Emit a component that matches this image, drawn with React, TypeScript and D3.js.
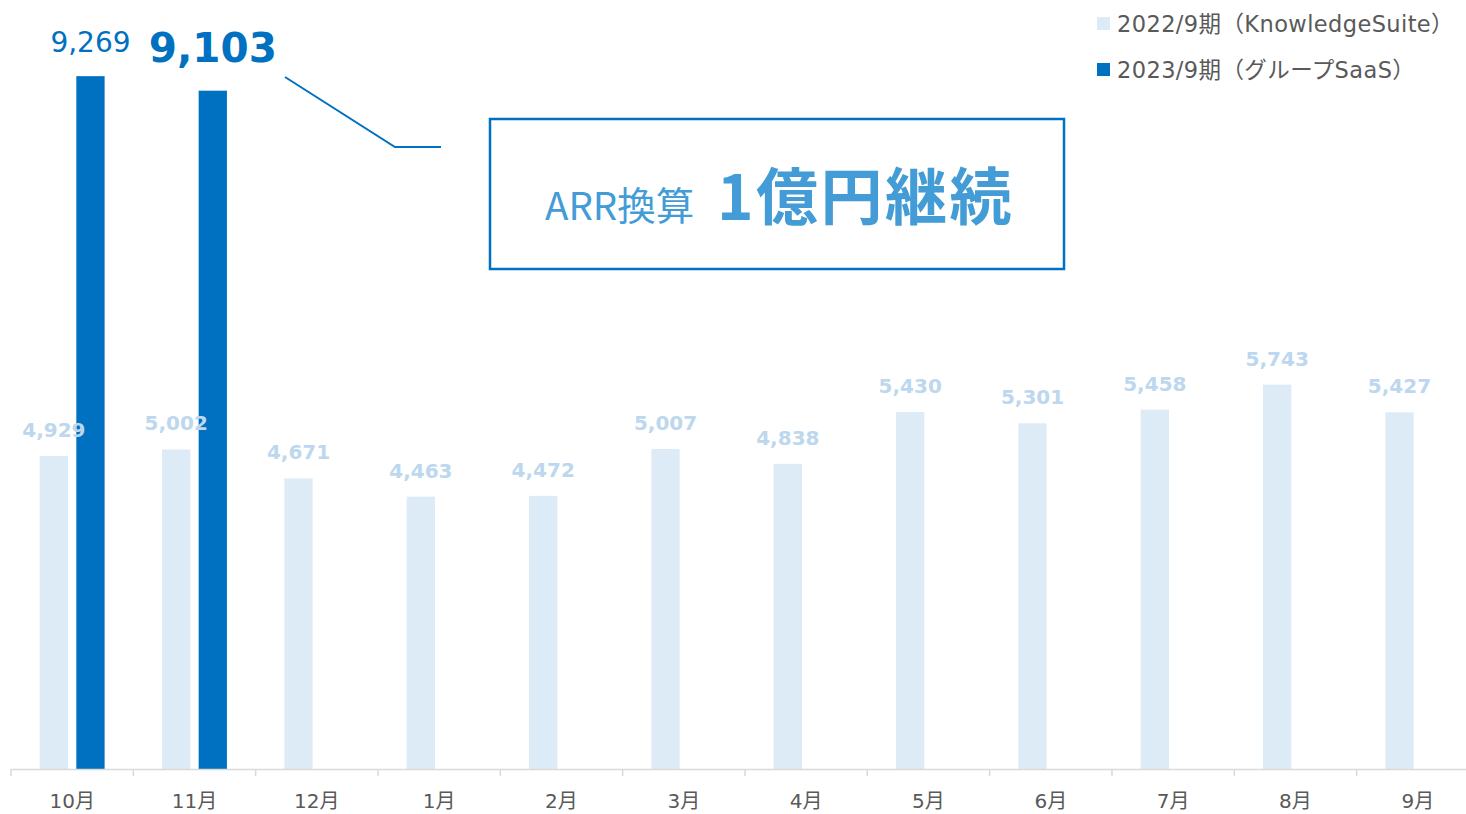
import React from 'react'
import * as d3 from 'd3'

const months = ['10月', '11月', '12月', '1月', '2月', '3月', '4月', '5月', '6月', '7月', '8月', '9月']
const series = ['2022/9期（KnowledgeSuite）', '2023/9期（グループSaaS）']
const values2022 = [4929, 5002, 4671, 4463, 4472, 5007, 4838, 5430, 5301, 5458, 5743, 5427]
const values2023 = [9269, 9103]

const W = 1466
const H = 814
const FONT = '"DejaVu Sans", Verdana, "Noto Sans CJK JP", sans-serif'
const JP = '"Noto Sans CJK JP", sans-serif'
const light = '#DDEBF7'
const dark = '#0070C0'

const App = () => {
  // x: months, then two slots per month
  const x0 = d3.scaleBand().domain(months).range([11, 11 + 122.33 * 12]).padding(0)
  const x1 = d3.scaleBand().domain(series).range([0, x0.bandwidth()]).paddingInner(0.227).paddingOuter(0.785)
  // axis does not start at zero
  const yScale = d3.scaleLinear().domain([1350, 10000]).range([769, 12.2])
  const base = yScale.range()[0]
  const fmt = d3.format(',')
  const cx = (i: number, s: number) => x0(months[i])! + x1(series[s])!

  return (
    <div style={{ position: 'absolute', left: 0, top: 0, width: W, height: H, overflow: 'hidden', background: '#fff' }}>
      <svg width={W} height={H} style={{ display: 'block' }}>
        {values2022.map((v, i) => (
          <rect key={'a' + i} x={cx(i, 0)} y={yScale(v)} width={x1.bandwidth()} height={base - yScale(v)} fill={light} />
        ))}
        {values2023.map((v, i) => (
          <rect key={'b' + i} x={cx(i, 1)} y={yScale(v)} width={x1.bandwidth()} height={base - yScale(v)} fill={dark} />
        ))}
        {/* labels after bars so 4,929 / 5,002 sit over the dark bars */}
        {values2022.map((v, i) => (
          <text key={'la' + i} x={cx(i, 0) + x1.bandwidth() / 2} y={yScale(v) - 19} textAnchor="middle" fontFamily={FONT}
            fontWeight="bold" fontSize={20} fill="#BDD7EE">{fmt(v)}</text>
        ))}
        {values2023.map((v, i) => {
          const big = i === 1
          return (
            <text key={'lb' + i} x={cx(i, 1) + x1.bandwidth() / 2} y={yScale(v) - (big ? 29 : 24)} textAnchor="middle"
              fontFamily={FONT} fontWeight={big ? 'bold' : 'normal'} fontSize={big ? 40.5 : 28} fill={dark}>{fmt(v)}</text>
          )
        })}

        {/* x axis */}
        <line x1={11} x2={W} y1={769.5} y2={769.5} stroke="#D9D9D9" strokeWidth={1.5} />
        {months.map((m) => (
          <g key={m}>
            <line x1={x0(m)!} x2={x0(m)!} y1={769} y2={776} stroke="#D9D9D9" strokeWidth={1.5} />
            <text x={x0(m)! + x0.bandwidth() / 2} y={808} textAnchor="middle" fontFamily={FONT} fontSize={20} fill="#595959">{m}</text>
          </g>
        ))}

        {/* callout */}
        <polyline points="285,77 395,147 441,147" fill="none" stroke={dark} strokeWidth={2} />
        <rect x={490} y={119} width={574} height={150} fill="none" stroke={dark} strokeWidth={2.5} />
        <text x={545} y={220} fontFamily={JP} fill="#449CD6">
          <tspan fontSize={38.5}>ARR換算</tspan>
          <tspan x={717} fontSize={62} fontWeight="bold" letterSpacing={2.5}>1億円継続</tspan>
        </text>

        {/* legend */}
        {series.map((s, i) => (
          <g key={s} transform={`translate(1097,${17 + i * 46})`}>
            <rect width={13} height={13} fill={i === 0 ? light : dark} />
            <text x={20} y={15} fontFamily={FONT} fontSize={22.5} letterSpacing={0.4} fill="#595959">{s}</text>
          </g>
        ))}
      </svg>
    </div>
  )
}

export default App
